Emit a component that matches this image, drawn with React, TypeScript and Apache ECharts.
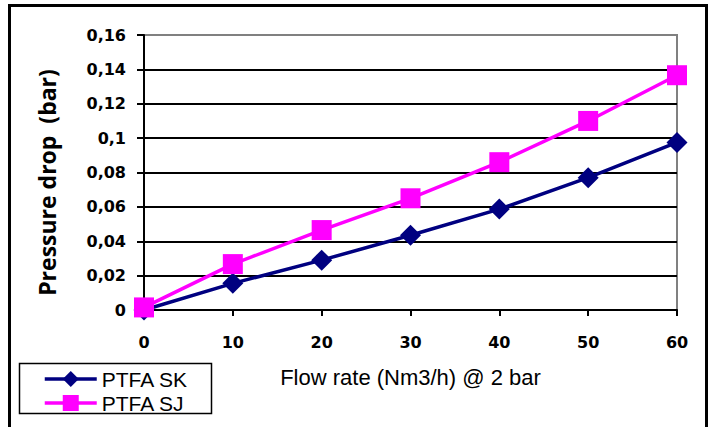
import React, { useEffect, useRef } from "react";
import * as echarts from "echarts";

const flowRates = [0, 10, 20, 30, 40, 50, 60];
const ptfaSK = [0, 0.0155, 0.029, 0.0435, 0.0587, 0.077, 0.0975];
const ptfaSJ = [0.0015, 0.0267, 0.0465, 0.065, 0.086, 0.11, 0.1366];
const seriesNames = ["PTFA SK", "PTFA SJ"];
const xAxisTitle = "Flow rate (Nm3/h) @ 2 bar";
const yAxisTitle = "Pressure drop  (bar)";

export default function App() {
  const ref = useRef<HTMLDivElement>(null);
  useEffect(() => {
    if (!ref.current) return;
    const chart = echarts.init(ref.current, undefined, { renderer: "svg" });
    const splitColors = ["#000", "#000", "#000", "#000", "#000", "#000", "#000", "#000", "#808080"];
    chart.setOption({
      animation: false,
      backgroundColor: "#fff",
      grid: {
        left: 144,
        top: 35,
        right: 38,
        bottom: 117,
        show: true,
        borderColor: "#808080",
        borderWidth: 2,
        backgroundColor: "transparent",
      },
      xAxis: {
        type: "value",
        min: 0,
        max: 60,
        interval: 10,
        name: xAxisTitle,
        nameLocation: "middle",
        nameGap: 56,
        nameTextStyle: { fontFamily: "Liberation Sans", fontSize: 22, color: "#000" },
        axisLine: { show: true, lineStyle: { color: "#000", width: 2 } },
        axisTick: { show: true, length: 6, lineStyle: { color: "#000", width: 2 } },
        axisLabel: {
          margin: 24,
          fontFamily: "DejaVu Sans",
          fontWeight: "bold",
          fontSize: 16,
          color: "#000",
        },
        splitLine: { show: false },
      },
      yAxis: {
        type: "value",
        min: 0,
        max: 0.16,
        interval: 0.02,
        name: yAxisTitle,
        nameLocation: "middle",
        nameRotate: 90,
        nameGap: 86,
        nameTextStyle: {
          fontFamily: "Open Sans",
          fontWeight: "bold",
          fontSize: 23,
          color: "#000",
          padding: [0, 20, 0, 0],
        },
        axisLine: { show: true, lineStyle: { color: "#000", width: 2 } },
        axisTick: { show: true, length: 7, lineStyle: { color: "#000", width: 2 } },
        axisLabel: {
          margin: 18,
          fontFamily: "DejaVu Sans",
          fontWeight: "bold",
          fontSize: 16,
          color: "#000",
          formatter: (v: number) => String(Math.round(v * 100) / 100).replace(".", ","),
        },
        splitLine: { show: true, lineStyle: { color: splitColors, width: 2 } },
      },
      legend: {
        orient: "vertical",
        left: 43,
        top: 367,
        padding: 0,
        itemGap: 0,
        itemWidth: 52,
        itemHeight: 20,
        lineStyle: { width: 3.5 },
        textStyle: { fontFamily: "Liberation Sans", fontSize: 21, color: "#000", lineHeight: 24 },
        data: seriesNames,
      },
      graphic: [
        {
          type: "rect",
          shape: { x: 9.5, y: 5.5, width: 697, height: 460 },
          style: { fill: "none", stroke: "#000", lineWidth: 3 },
          silent: true,
        },
        {
          type: "rect",
          shape: { x: 19.5, y: 363.5, width: 192, height: 50 },
          style: { fill: "none", stroke: "#000", lineWidth: 1.5 },
          silent: true,
        },
      ],
      series: [
        {
          name: seriesNames[0],
          type: "line",
          data: flowRates.map((x, i) => [x, ptfaSK[i]]),
          symbol: "diamond",
          symbolSize: 21,
          lineStyle: { color: "#000080", width: 3.5 },
          itemStyle: { color: "#000080" },
          z: 3,
        },
        {
          name: seriesNames[1],
          type: "line",
          data: flowRates.map((x, i) => [x, ptfaSJ[i]]),
          symbol: "rect",
          symbolSize: 20,
          lineStyle: { color: "#FF00FF", width: 3.5 },
          itemStyle: { color: "#FF00FF" },
          z: 4,
        },
      ],
    });
    return () => chart.dispose();
  }, []);
  return (
    <div
      ref={ref}
      style={{ position: "fixed", left: 0, top: 0, width: 715, height: 427 }}
    />
  );
}
